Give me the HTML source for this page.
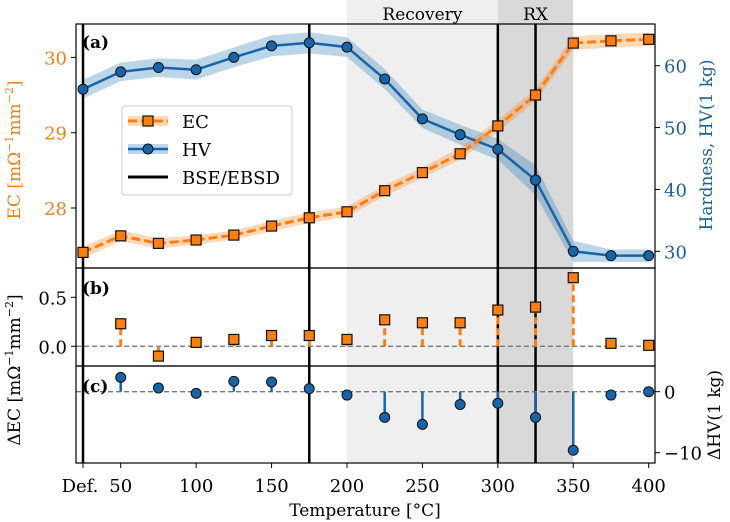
<!DOCTYPE html>
<html><head><meta charset="utf-8"><style>
body{margin:0;background:#fff}
svg{display:block;font-family:"DejaVu Serif","Liberation Serif",serif}
</style></head><body>
<svg id="chart" width="730" height="522" viewBox="0 0 730 522"></svg>
<script>
const temps=[25,50,75,100,125,150,175,200,225,250,275,300,325,350,375,400];
const ecValues=[27.41,27.63,27.53,27.575,27.64,27.76,27.87,27.95,28.23,28.47,28.72,29.09,29.50,30.19,30.22,30.24];
const ecErr=[0.08,0.07,0.07,0.06,0.06,0.07,0.07,0.07,0.07,0.07,0.08,0.08,0.08,0.09,0.09,0.09];
const hvValues=[56.2,59.0,59.7,59.35,61.35,63.2,63.7,63.0,57.85,51.4,48.85,46.5,41.5,30.0,29.3,29.3];
const hvErr=[1.5,1.5,1.5,1.6,1.6,1.7,1.7,1.6,1.6,1.5,1.6,1.7,2.4,1.7,1.0,1.0];
const dTemps=[50,75,100,125,150,175,200,225,250,275,300,325,350,375,400];
const dEC=[0.23,-0.10,0.04,0.07,0.11,0.11,0.07,0.27,0.24,0.24,0.37,0.40,0.70,0.03,0.01];
const dHV=[2.35,0.6,-0.27,1.7,1.6,0.5,-0.55,-4.2,-5.35,-2.1,-1.9,-4.2,-9.6,-0.55,0];
const xTicks=[25,50,100,150,200,250,300,350,400];
const xTickLabels=['Def.','50','100','150','200','250','300','350','400'];
const ecTicks=[28,29,30];
const hvTicks=[30,40,50,60];
const dEcTicks=[0.0,0.5];
const dHvTicks=[0,-10];
const bseLines=[25,175,300,325];

const NS='http://www.w3.org/2000/svg';
const svg=document.getElementById('chart');
function mk(tag,attrs,parent){const e=document.createElementNS(NS,tag);for(const k in attrs)e.setAttribute(k,attrs[k]);(parent||svg).appendChild(e);return e;}
const X=t=>83+(t-25)*1.5085;
const yEC=v=>208-(v-28)*75.3;
const yHV=v=>251.3-(v-30)*6.187;
const yDEC=v=>346.3-v*98;
const yDHV=v=>391.7-v*6.1;
const L=76,R=655,TOP=24,B1=268,B2=366,BOT=463;
const ORANGE='#ff7f0e',BLUE='#1565a8';

let e=mk('rect',{x:X(200),y:0,width:X(300)-X(200),height:BOT,fill:'#efefef'});

e=mk('rect',{x:X(300),y:0,width:X(350)-X(300),height:BOT,fill:'#d9d9d9'});

e=mk('text',{x:(X(200)+X(300))/2,y:20,'text-anchor':'middle','font-size':17});e.textContent='Recovery';

e=mk('text',{x:(X(300)+X(350))/2,y:20,'text-anchor':'middle','font-size':17});e.textContent='RX';


function band(vals,err,yf,color,name){
  let d='';vals.forEach((v,i)=>{d+=(i?'L':'M')+X(temps[i])+','+yf(v+err[i]);});
  for(let i=vals.length-1;i>=0;i--)d+='L'+X(temps[i])+','+yf(vals[i]-err[i]);
  const p=mk('path',{d:d+'Z',fill:color,opacity:0.3});
  
}
band(hvValues,hvErr,yHV,'#1f77b4','hv-band');
band(ecValues,ecErr,yEC,ORANGE,'ec-band');

bseLines.forEach(t=>{const l=mk('line',{x1:X(t),x2:X(t),y1:TOP,y2:BOT,stroke:'#000','stroke-width':2.5});
});

let pts=hvValues.map((v,i)=>X(temps[i])+','+yHV(v)).join(' ');
e=mk('polyline',{points:pts,fill:'none',stroke:BLUE,'stroke-width':2.5});

hvValues.forEach((v,i)=>{const c=mk('circle',{cx:X(temps[i]),cy:yHV(v),r:5,fill:BLUE,stroke:'#111','stroke-width':1});
});
pts=ecValues.map((v,i)=>X(temps[i])+','+yEC(v)).join(' ');
e=mk('polyline',{points:pts,fill:'none',stroke:ORANGE,'stroke-width':3,'stroke-dasharray':'9,4'});

ecValues.forEach((v,i)=>{const r=mk('rect',{x:X(temps[i])-5,y:yEC(v)-5,width:10,height:10,fill:ORANGE,stroke:'#111','stroke-width':1.2});
});

mk('line',{x1:L,x2:R,y1:yDEC(0),y2:yDEC(0),stroke:'#777','stroke-width':1.3,'stroke-dasharray':'5,3'});
mk('line',{x1:L,x2:R,y1:yDHV(0),y2:yDHV(0),stroke:'#777','stroke-width':1.3,'stroke-dasharray':'5,3'});
dEC.forEach((v,i)=>{const x=X(dTemps[i]);
  const s=mk('line',{x1:x,x2:x,y1:yDEC(0),y2:yDEC(v),stroke:ORANGE,'stroke-width':3,'stroke-dasharray':'7,4'});
  
  const r=mk('rect',{x:x-5,y:yDEC(v)-5,width:10,height:10,fill:ORANGE,stroke:'#111','stroke-width':1.2});
  });
dHV.forEach((v,i)=>{const x=X(dTemps[i]);
  const s=mk('line',{x1:x,x2:x,y1:yDHV(0),y2:yDHV(v),stroke:BLUE,'stroke-width':2.5});
  
  const c=mk('circle',{cx:x,cy:yDHV(v),r:5,fill:BLUE,stroke:'#111','stroke-width':1});
  });

[[TOP,B1,'panel-a-frame'],[B1,B2,'panel-b-frame'],[B2,BOT,'panel-c-frame']].forEach(f=>{
  const r=mk('rect',{x:L,y:f[0],width:R-L,height:f[1]-f[0],fill:'none',stroke:'#000','stroke-width':1.2});
  });
[['(a)',40],['(b)',286],['(c)',384]].forEach(p=>{const t=mk('text',{x:82,y:p[1]+8,'font-size':17,'font-weight':'bold'});t.textContent=p[0];
});

xTicks.forEach((t,i)=>{mk('line',{x1:X(t),x2:X(t),y1:BOT,y2:BOT+5,stroke:'#000'});
  const tx=mk('text',{x:X(t)+(i==0?-3:0),y:492,'text-anchor':'middle','font-size':18});tx.textContent=xTickLabels[i];
  });
ecTicks.forEach(v=>{mk('line',{x1:L-5,x2:L,y1:yEC(v),y2:yEC(v),stroke:'#000'});
  const t=mk('text',{x:L-9,y:yEC(v)+7,'text-anchor':'end','font-size':18,fill:'#e8801c'});t.textContent=v;
  });
hvTicks.forEach(v=>{mk('line',{x1:R,x2:R+5,y1:yHV(v),y2:yHV(v),stroke:'#000'});
  const t=mk('text',{x:R+9,y:yHV(v)+7,'font-size':18,fill:'#1a5f94'});t.textContent=v;
  });
dEcTicks.forEach(v=>{mk('line',{x1:L-5,x2:L,y1:yDEC(v),y2:yDEC(v),stroke:'#000'});
  const t=mk('text',{x:L-9,y:yDEC(v)+7,'text-anchor':'end','font-size':18});t.textContent=v.toFixed(1);
  });
dHvTicks.forEach(v=>{mk('line',{x1:R,x2:R+5,y1:yDHV(v),y2:yDHV(v),stroke:'#000'});
  const t=mk('text',{x:R+9,y:yDHV(v)+7,'font-size':18});t.textContent=(v<0?'\u2212'+(-v):v);
  });
</script>
<svg width="730" height="522" style="position:absolute;left:0;top:0">
<g font-family="DejaVu Serif, Liberation Serif, serif">
<g>
<rect x="122" y="106" width="170" height="89" rx="3" fill="#fff" fill-opacity="0.85" stroke="#ccc"/>
<rect x="128" y="116" width="40" height="10" fill="#ff7f0e" opacity="0.3"/>
<line x1="128" y1="121" x2="168" y2="121" stroke="#ff7f0e" stroke-width="3" stroke-dasharray="9,4"/>
<rect x="143" y="116" width="10" height="10" fill="#ff7f0e" stroke="#111" stroke-width="1.2"/>
<text x="182" y="128" font-size="18">EC</text>
<rect x="128" y="144" width="40" height="10" fill="#1f77b4" opacity="0.3"/>
<line x1="128" y1="149" x2="168" y2="149" stroke="#1565a8" stroke-width="2.5"/>
<circle cx="148" cy="149" r="5" fill="#1565a8" stroke="#111"/>
<text x="182" y="156" font-size="18">HV</text>
<line x1="128" y1="177" x2="168" y2="177" stroke="#000" stroke-width="3"/>
<text x="182" y="184" font-size="18">BSE/EBSD</text>
</g>
<text transform="translate(20,150) rotate(-90)" text-anchor="middle" font-size="17" fill="#e8801c">EC [mΩ<tspan dy="-7" font-size="11">−1</tspan><tspan dy="7">mm</tspan><tspan dy="-7" font-size="11">−2</tspan><tspan dy="7">]</tspan></text>
<text transform="translate(20,370) rotate(-90)" text-anchor="middle" font-size="17">ΔEC [mΩ<tspan dy="-7" font-size="11">−1</tspan><tspan dy="7">mm</tspan><tspan dy="-7" font-size="11">−2</tspan><tspan dy="7">]</tspan></text>
<text transform="translate(712,145) rotate(-90)" text-anchor="middle" font-size="17" fill="#1a5f94">Hardness, HV(1 kg)</text>
<text transform="translate(720,415) rotate(-90)" text-anchor="middle" font-size="17">ΔHV(1 kg)</text>
<text x="365" y="516" text-anchor="middle" font-size="17">Temperature [°C]</text>
</g></svg>
</body></html>
